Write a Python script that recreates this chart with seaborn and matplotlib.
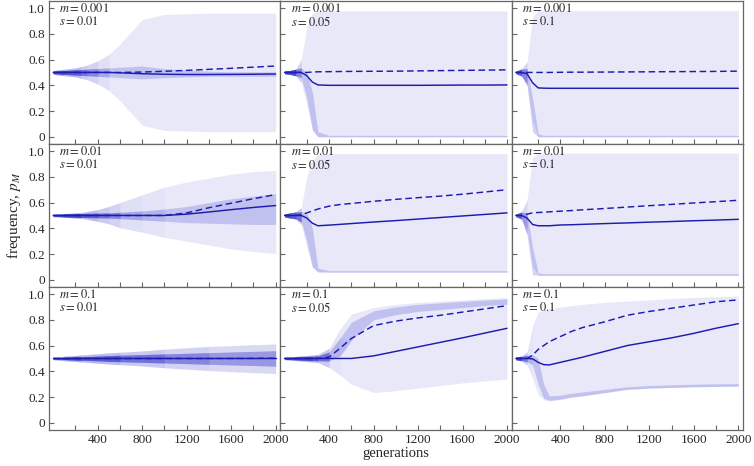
import numpy as np
import matplotlib
matplotlib.use("Agg")
import matplotlib.pyplot as plt
import seaborn as sns

gens = [0, 50, 100, 150, 200, 250, 300, 400, 500, 600, 800, 1000, 1200, 1400, 1600, 1800, 2000]

m_labels = ["0.001", "0.01", "0.1"]
s_labels = ["0.01", "0.05", "0.1"]

# ---- row 1: m = 0.001 ----
hi_1a = [.515, .52, .525, .53, .535, .545, .555, .59, .64, .72, .91, .95, .955, .96, .96, .96, .96]
lo_1a = [.485, .48, .475, .47, .465, .455, .445, .41, .36, .28, .09, .05, .045, .04, .04, .04, .04]
chi_1a = [.508, .512, .515, .518, .52, .522, .525, .53, .535, .54, .55, .53, .52, .51, .505, .505, .505]
clo_1a = [.492, .488, .485, .482, .48, .478, .475, .47, .465, .46, .45, .46, .465, .47, .47, .47, .47]
med_1a = [.5, .5, .5, .5, .5, .5, .5, .5, .5, .497, .49, .486, .484, .484, .485, .486, .488]
mean_1a = [.5, .5, .5, .5, .5, .5, .5, .5, .5, .5, .503, .509, .516, .524, .532, .541, .55]

hi_1b = [.51, .515, .525, .6, .85, .96, .975, .978, .978, .978, .978, .978, .978, .978, .978, .978, .978]
lo_1b = [.49, .485, .475, .42, .25, .06, 0, 0, 0, 0, 0, 0, 0, 0, 0, 0, 0]
chi_1b = [.51, .515, .525, .535, .5, .35, .04, .012, .012, .012, .012, .012, .012, .012, .012, .012, .012]
clo_1b = [.49, .485, .475, .46, .3, .05, 0, 0, 0, 0, 0, 0, 0, 0, 0, 0, 0]
med_1b = [.5, .5, .5, .5, .475, .425, .403, .4, .4, .4, .4, .4, .4, .401, .402, .402, .403]
mean_1b = [.5, .5, .5, .5, .5, .503, .505, .506, .507, .508, .509, .51, .512, .514, .516, .518, .52]

hi_1c = [.51, .53, .58, .93, .98, .98, .98, .98, .98, .98, .98, .98, .98, .98, .98, .98, .98]
lo_1c = [.49, .47, .42, .12, 0, 0, 0, 0, 0, 0, 0, 0, 0, 0, 0, 0, 0]
chi_1c = [.51, .525, .53, .3, .025, .012, .012, .012, .012, .012, .012, .012, .012, .012, .012, .012, .012]
clo_1c = [.49, .475, .4, .04, 0, 0, 0, 0, 0, 0, 0, 0, 0, 0, 0, 0, 0]
med_1c = [.5, .5, .49, .42, .38, .378, .377, .377, .377, .377, .377, .377, .377, .377, .377, .377, .377]
mean_1c = [.5, .5, .5, .5, .5, .5, .5, .501, .502, .502, .503, .504, .505, .506, .507, .508, .51]

# ---- row 2: m = 0.01 ----
hi_2a = [.51, .512, .515, .517, .52, .522, .53, .545, .57, .6, .66, .72, .76, .79, .82, .84, .85]
lo_2a = [.49, .488, .485, .483, .48, .478, .47, .455, .435, .405, .37, .33, .3, .27, .24, .22, .205]
chi_2a = [.505, .508, .51, .512, .514, .515, .516, .518, .52, .525, .535, .55, .57, .6, .63, .65, .67]
clo_2a = [.495, .492, .49, .488, .486, .485, .484, .482, .48, .475, .465, .455, .445, .44, .435, .43, .43]
med_2a = [.5, .5, .5, .5, .5, .5, .5, .5, .5, .5, .5, .5, .51, .527, .545, .562, .577]
mean_2a = [.5, .5, .5, .5, .5, .5, .5, .5, .5, .5, .5, .5, .52, .56, .595, .63, .662]

hi_2b = [.51, .52, .53, .56, .8, .93, .975, .98, .98, .98, .98, .98, .98, .98, .98, .98, .98]
lo_2b = [.49, .48, .47, .43, .25, .1, .065, .06, .06, .06, .06, .06, .06, .06, .06, .06, .06]
chi_2b = [.51, .52, .525, .53, .52, .4, .09, .072, .072, .072, .072, .072, .072, .072, .072, .072, .072]
clo_2b = [.49, .48, .475, .45, .3, .1, .06, .06, .06, .06, .06, .06, .06, .06, .06, .06, .06]
med_2b = [.5, .5, .5, .5, .48, .44, .42, .425, .431, .437, .449, .46, .472, .484, .496, .508, .52]
mean_2b = [.5, .5, .5, .505, .52, .535, .55, .572, .585, .593, .61, .625, .638, .65, .665, .682, .70]

hi_2c = [.51, .53, .62, .95, .985, .985, .985, .985, .985, .985, .985, .985, .985, .985, .985, .985, .985]
lo_2c = [.49, .47, .4, .1, .04, .035, .035, .035, .035, .035, .035, .035, .035, .035, .035, .035, .035]
chi_2c = [.51, .525, .52, .25, .055, .047, .047, .047, .047, .047, .047, .047, .047, .047, .047, .047, .047]
clo_2c = [.49, .475, .35, .04, .035, .035, .035, .035, .035, .035, .035, .035, .035, .035, .035, .035, .035]
med_2c = [.5, .5, .48, .43, .42, .42, .42, .426, .428, .431, .437, .442, .448, .453, .459, .464, .47]
mean_2c = [.5, .5, .51, .52, .523, .525, .528, .533, .538, .544, .554, .565, .576, .586, .597, .607, .618]

# ---- row 3: m = 0.1 ----
hi_3a = [.51, .513, .517, .52, .523, .527, .53, .537, .543, .548, .558, .572, .583, .593, .6, .607, .612]
lo_3a = [.49, .487, .483, .48, .477, .473, .47, .463, .457, .452, .442, .428, .417, .407, .398, .39, .383]
chi_3a = [.504, .506, .508, .51, .512, .513, .515, .518, .522, .525, .53, .535, .54, .545, .55, .555, .56]
clo_3a = [.496, .494, .492, .49, .488, .487, .485, .482, .478, .475, .47, .465, .46, .455, .45, .445, .44]
med_3a = [.5, .5, .5, .5, .5, .5, .5, .5, .5, .5, .5, .5, .5, .5, .5, .5, .5]
mean_3a = [.5, .5, .5, .5, .5, .5, .5, .5, .5, .5, .5, .5, .5, .5, .5, .501, .502]

hi_3b = [.51, .513, .516, .52, .523, .527, .532, .58, .73, .845, .895, .92, .935, .945, .955, .965, .972]
lo_3b = [.49, .487, .484, .48, .477, .473, .468, .43, .37, .3, .235, .25, .27, .29, .31, .325, .34]
chi_3b = [.506, .508, .51, .512, .514, .516, .52, .55, .66, .78, .87, .9, .92, .932, .943, .953, .962]
clo_3b = [.494, .492, .49, .488, .486, .484, .482, .48, .52, .64, .8, .84, .865, .88, .895, .91, .92]
med_3b = [.5, .5, .5, .5, .5, .5, .5, .5, .5, .5, .52, .555, .59, .625, .66, .697, .734]
mean_3b = [.5, .5, .5, .5, .5, .5, .5, .51, .58, .655, .755, .79, .815, .835, .86, .885, .91]

hi_3c = [.51, .52, .55, .75, .86, .875, .885, .9, .91, .92, .935, .945, .955, .965, .975, .98, .985]
lo_3c = [.49, .48, .45, .35, .22, .18, .17, .18, .2, .21, .235, .26, .27, .275, .28, .283, .285]
chi_3c = [.51, .515, .525, .53, .5, .3, .21, .215, .23, .24, .26, .28, .29, .295, .3, .303, .305]
clo_3c = [.49, .485, .475, .45, .3, .19, .175, .185, .2, .21, .235, .26, .27, .275, .28, .283, .285]
med_3c = [.5, .5, .5, .497, .47, .452, .45, .47, .49, .51, .555, .6, .63, .66, .695, .735, .77]
mean_3c = [.5, .5, .5, .525, .57, .6, .63, .67, .71, .74, .785, .835, .865, .89, .915, .94, .955]

panels = [
    [(hi_1a, lo_1a, chi_1a, clo_1a, med_1a, mean_1a),
     (hi_1b, lo_1b, chi_1b, clo_1b, med_1b, mean_1b),
     (hi_1c, lo_1c, chi_1c, clo_1c, med_1c, mean_1c)],
    [(hi_2a, lo_2a, chi_2a, clo_2a, med_2a, mean_2a),
     (hi_2b, lo_2b, chi_2b, clo_2b, med_2b, mean_2b),
     (hi_2c, lo_2c, chi_2c, clo_2c, med_2c, mean_2c)],
    [(hi_3a, lo_3a, chi_3a, clo_3a, med_3a, mean_3a),
     (hi_3b, lo_3b, chi_3b, clo_3b, med_3b, mean_3b),
     (hi_3c, lo_3c, chi_3c, clo_3c, med_3c, mean_3c)],
]

cloud_color = "#3434cc"
line_color = "#1c1cb0"
frame_color = "#666666"

# the narrower the spread, the darker the overlapping runs look
width_steps = [0.06, 0.1, 0.15, 0.2, 0.26, 0.33, 0.42]
step_alpha = [0.38, 0.27, 0.18, 0.13, 0.1, 0.08, 0.06]

sns.set_style("ticks")
plt.rcParams["font.family"] = ["Liberation Serif", "DejaVu Serif"]
plt.rcParams["mathtext.fontset"] = "stix"

fig, axes = plt.subplots(3, 3, figsize=(7.54, 4.66), dpi=100, sharex=True, sharey=True)
fig.subplots_adjust(left=0.065, right=0.9854, top=0.998, bottom=0.0773, wspace=0, hspace=0)

for r in range(3):
    for c in range(3):
        ax = axes[r, c]
        hi, lo, chi, clo, med, mean = panels[r][c]
        g = np.array(gens)
        spread = np.array(hi) - np.array(lo)

        # cloud of simulated trajectories
        ax.fill_between(g, lo, hi, color=cloud_color, alpha=0.11, lw=0)
        ax.fill_between(g, clo, chi, color=cloud_color, alpha=0.21, lw=0)
        for w, a in zip(width_steps, step_alpha):
            ax.fill_between(g, clo, chi, where=spread < w, interpolate=True,
                            color=cloud_color, alpha=a, lw=0)
            ax.fill_between(g, lo, hi, where=spread < w, interpolate=True,
                            color=cloud_color, alpha=a * 0.3, lw=0)

        sns.lineplot(x=gens, y=med, ax=ax, color=line_color, lw=1.05)
        dl = sns.lineplot(x=gens, y=mean, ax=ax, color=line_color, lw=1.05)
        dl.lines[-1].set_dashes((4.5, 2.5))

        ax.text(0.045, 0.944, "$m = " + m_labels[r] + "$", transform=ax.transAxes,
                fontsize=9, va="center", ha="left")
        ax.text(0.045, 0.853, "$s = " + s_labels[c] + "$", transform=ax.transAxes,
                fontsize=9, va="center", ha="left")

        ax.set_xlim(-38, 2042)
        ax.set_ylim(-0.055, 1.055)
        ax.set_xticks(range(200, 2001, 200))
        ax.set_xticklabels(["", "400", "", "800", "", "1200", "", "1600", "", "2000"])
        ax.set_yticks([0, 0.2, 0.4, 0.6, 0.8, 1.0])
        ax.set_yticklabels(["0", "0.2", "0.4", "0.6", "0.8", "1.0"])
        ax.tick_params(direction="in", length=3.5, width=0.8, color=frame_color,
                       labelsize=9.5, pad=3)
        ax.set_xlabel("")
        ax.set_ylabel("")
        for sp in ax.spines.values():
            sp.set_visible(True)
            sp.set_color(frame_color)
            sp.set_linewidth(0.9)

fig.text(0.019, 0.5375, "frequency, $p_M$", rotation=90, ha="center", va="center", fontsize=11)
fig.text(0.525, 0.026, "generations", ha="center", va="center", fontsize=10.5)

fig.savefig("out.png", dpi=100)
